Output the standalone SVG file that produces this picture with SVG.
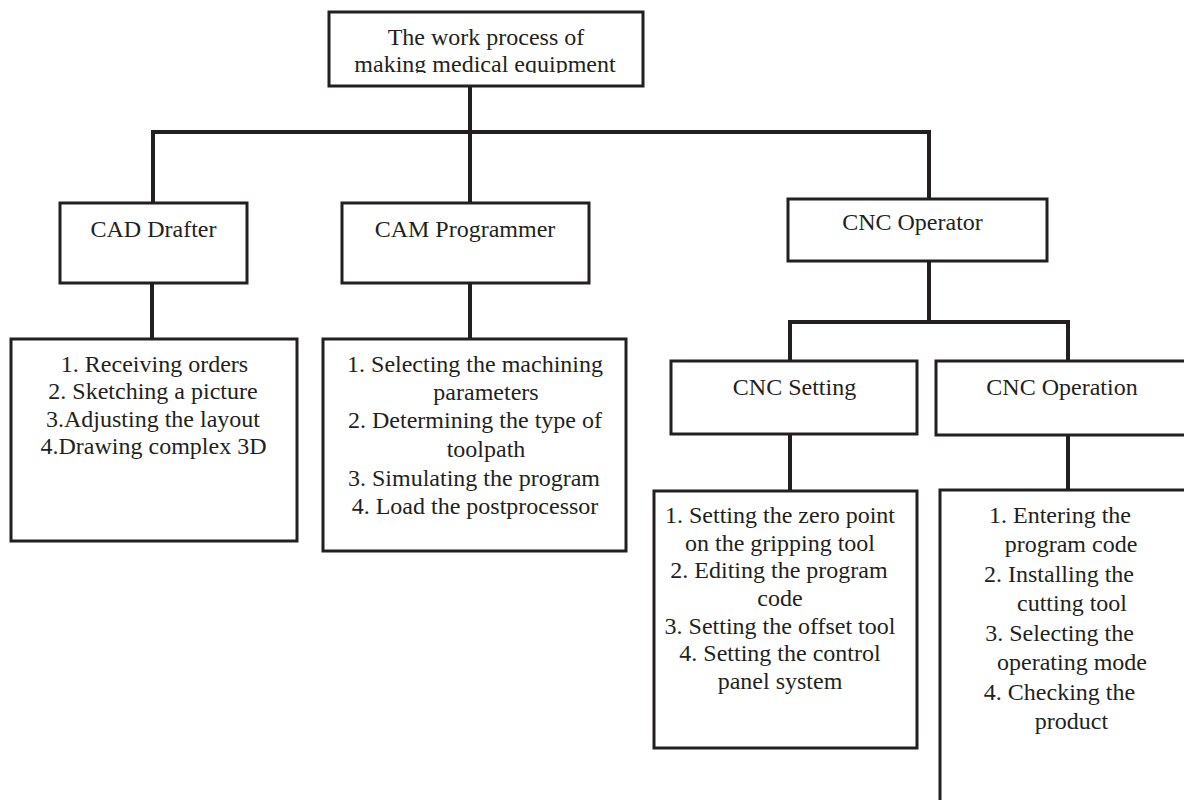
<svg xmlns="http://www.w3.org/2000/svg" width="1184" height="800" viewBox="0 0 1184 800">
<defs>
<style>
.box{fill:#fff;stroke:#231f20;stroke-width:3}
.ln{stroke:#231f20;stroke-width:4;fill:none;stroke-linecap:square}
text{font-family:"Liberation Serif","Times New Roman",serif;font-size:24px;fill:#231f20;text-anchor:middle}
</style>
<clipPath id="topclip"><rect x="329" y="12" width="314" height="61"/></clipPath>
</defs>
<rect width="1184" height="800" fill="#fff"/>
<g id="connectors">
<path class="ln" d="M470 86V132M153 132H929M153 132V203M470 132V203M929 132V199"/>
<path class="ln" d="M152 283V339M470 283V339M929 261V322M790 322H1068M790 322V361M1068 322V361M790 434V491M1068 435V490"/>
</g>
<g id="root">
<rect class="box" x="329" y="12" width="314" height="74"/>
<g clip-path="url(#topclip)">
<text x="486" y="45">The work process of</text>
<text x="485" y="72">making medical equipment</text>
</g>
</g>
<g id="cad">
<rect class="box" x="60" y="203" width="187" height="80"/>
<text x="153.5" y="237">CAD Drafter</text>
</g>
<g id="cam">
<rect class="box" x="342" y="203" width="247" height="80"/>
<text x="465" y="237">CAM Programmer</text>
</g>
<g id="cnc-operator">
<rect class="box" x="788" y="199" width="259" height="62"/>
<text x="912.5" y="230">CNC Operator</text>
</g>
<g id="cad-tasks">
<rect class="box" x="11" y="339" width="286" height="202"/>
<text x="154.5" y="372">1. Receiving orders</text>
<text x="153" y="399">2. Sketching a picture</text>
<text x="153" y="427">3.Adjusting the layout</text>
<text x="153.5" y="454">4.Drawing complex 3D</text>
</g>
<g id="cam-tasks">
<rect class="box" x="323" y="339" width="303" height="212"/>
<text x="475" y="372">1. Selecting the machining</text>
<text x="486" y="400">parameters</text>
<text x="475" y="428">2. Determining the type of</text>
<text x="486" y="457">toolpath</text>
<text x="474" y="486">3. Simulating the program</text>
<text x="475" y="514">4. Load the postprocessor</text>
</g>
<g id="cnc-setting">
<rect class="box" x="671" y="361" width="246" height="73"/>
<text x="794.5" y="395">CNC Setting</text>
</g>
<g id="cnc-operation">
<rect class="box" x="936" y="361" width="270" height="74"/>
<text x="1062" y="395">CNC Operation</text>
</g>
<g id="cnc-setting-tasks">
<rect class="box" x="654" y="491" width="263" height="257"/>
<text x="780" y="523">1. Setting the zero point</text>
<text x="780" y="551">on the gripping tool</text>
<text x="779" y="578">2. Editing the program</text>
<text x="780" y="606">code</text>
<text x="780" y="634">3. Setting the offset tool</text>
<text x="780" y="661">4. Setting the control</text>
<text x="780" y="689">panel system</text>
</g>
<g id="cnc-operation-tasks">
<rect class="box" x="940" y="490" width="270" height="330"/>
<text x="1060" y="523">1. Entering the</text>
<text x="1071" y="552">program code</text>
<text x="1059" y="582">2. Installing the</text>
<text x="1072" y="611">cutting tool</text>
<text x="1059.5" y="641">3. Selecting the</text>
<text x="1072" y="670">operating mode</text>
<text x="1059.5" y="700">4. Checking the</text>
<text x="1071.5" y="729">product</text>
</g>
</svg>
